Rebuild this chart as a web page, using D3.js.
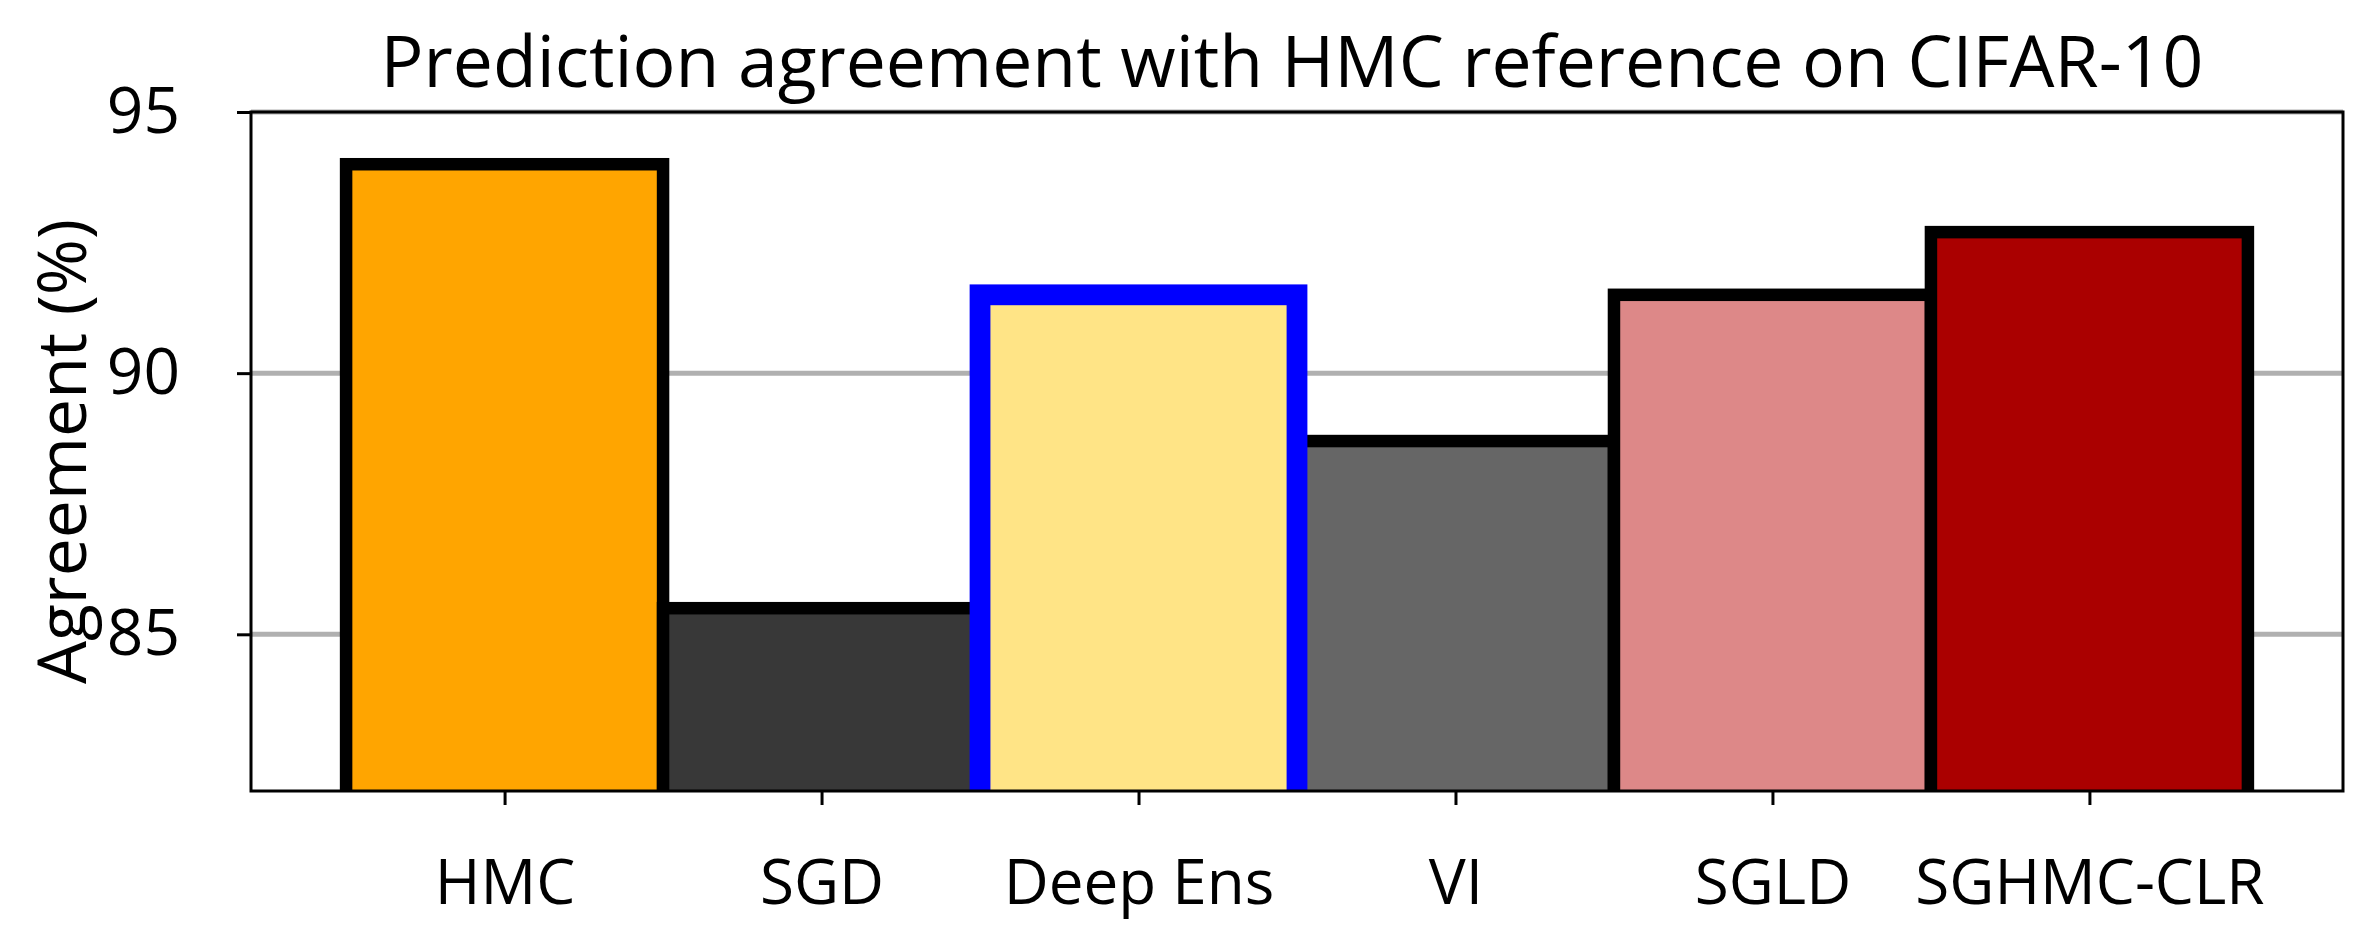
<!DOCTYPE html>
<html>
<head>
<meta charset="utf-8">
<script src="https://cdn.jsdelivr.net/npm/d3@7"></script>
<style>
  body { margin: 0; background: #fff; }
  svg { display: block; font-family: "Open Sans", "Noto Sans", sans-serif; }
</style>
</head>
<body>
<svg id="chart" width="2373" height="945"></svg>
<script>
// chart values
const categories = ["HMC", "SGD", "Deep Ens", "VI", "SGLD", "SGHMC-CLR"];
const agreement = [94.0, 85.5, 91.5, 88.7, 91.5, 92.7];
const barColors = ["#ffa500", "#383838", "#ffe486", "#666666", "#dd8888", "#aa0000"];
const edgeColors = ["#000000", "#000000", "#0000ff", "#000000", "#000000", "#000000"];
const yTicks = [85, 90, 95];

const svg = d3.select("#chart");
const plotLeft = 251, plotRight = 2343, plotTop = 112, plotBottom = 791;

const x = d3.scaleLinear().domain([-0.8, 5.8]).range([plotLeft, plotRight]);
const y = d3.scaleLinear().domain([82, 95]).range([plotBottom, plotTop]);

svg.append("defs").append("clipPath").attr("id", "plot-clip")
  .append("rect")
  .attr("x", plotLeft).attr("y", 0)
  .attr("width", plotRight - plotLeft).attr("height", plotBottom);

// horizontal grid behind the bars
svg.append("g")
  .selectAll("line")
  .data(yTicks)
  .enter()
  .append("line")
  .attr("x1", plotLeft).attr("x2", plotRight)
  .attr("y1", d => y(d)).attr("y2", d => y(d))
  .attr("stroke", "#b0b0b0")
  .attr("stroke-width", 5);

// bars; the highlighted one (blue edge) goes on top
const bars = categories.map((c, i) => ({ i, name: c, value: agreement[i], fill: barColors[i], edge: edgeColors[i] }));
bars.sort((a, b) => (a.edge === "#0000ff") - (b.edge === "#0000ff"));

svg.append("g")
  .attr("clip-path", "url(#plot-clip)")
  .selectAll("rect")
  .data(bars)
  .enter()
  .append("rect")
  .attr("x", d => x(d.i - 0.5))
  .attr("width", d => x(d.i + 0.5) - x(d.i - 0.5))
  .attr("y", d => y(d.value))
  .attr("height", d => y(80) - y(d.value))
  .attr("fill", d => d.fill)
  .attr("stroke", d => d.edge)
  .attr("stroke-width", d => d.edge === "#0000ff" ? 20.8 : 12.5);

// frame
svg.append("rect")
  .attr("x", plotLeft).attr("y", plotTop)
  .attr("width", plotRight - plotLeft).attr("height", plotBottom - plotTop)
  .attr("fill", "none")
  .attr("stroke", "#000")
  .attr("stroke-width", 3);

// y axis
const yAxis = svg.append("g")
  .attr("transform", `translate(${plotLeft},0)`)
  .call(d3.axisLeft(y).tickValues(yTicks).tickSize(14).tickSizeOuter(0).tickPadding(57));
yAxis.select(".domain").remove();
yAxis.selectAll(".tick line").attr("stroke-width", 3);
yAxis.selectAll(".tick text")
  .attr("font-family", "Open Sans")
  .attr("font-size", 64)
  .attr("fill", "#000");

// x axis
const xAxis = svg.append("g")
  .attr("transform", `translate(0,${plotBottom})`)
  .call(d3.axisBottom(x).tickValues(d3.range(categories.length))
    .tickFormat(i => categories[i]).tickSize(14).tickSizeOuter(0));
xAxis.select(".domain").remove();
xAxis.selectAll(".tick line").attr("stroke-width", 3);
xAxis.selectAll(".tick text")
  .attr("font-family", "Open Sans")
  .attr("font-size", 62)
  .attr("fill", "#000")
  .attr("y", 113)
  .attr("dy", 0);

// y label
svg.append("text")
  .attr("transform", `translate(86,${(plotTop + plotBottom) / 2}) rotate(-90)`)
  .attr("text-anchor", "middle")
  .attr("font-size", 68)
  .text("Agreement (%)");

// title
svg.append("text")
  .attr("x", (plotLeft + plotRight) / 2 - 5)
  .attr("y", 87)
  .attr("text-anchor", "middle")
  .attr("font-size", 71.5)
  .text("Prediction agreement with HMC reference on CIFAR-10");
</script>
</body>
</html>
